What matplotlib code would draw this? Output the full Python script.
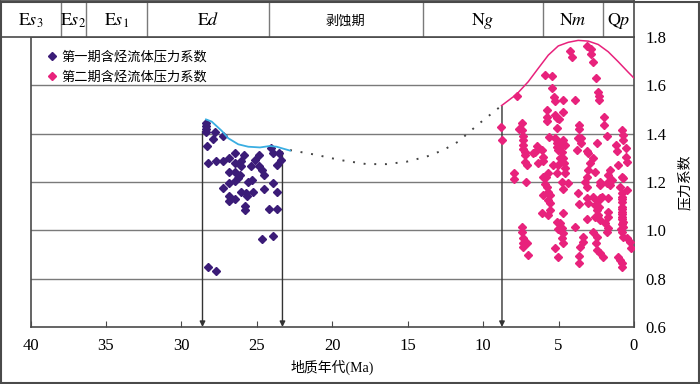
import numpy as np
import matplotlib
matplotlib.use("Agg")
import matplotlib.pyplot as plt
from matplotlib.patches import Rectangle

plt.rcParams['font.family'] = ['Liberation Serif', 'Noto Sans CJK SC']
plt.rcParams['mathtext.fontset'] = 'stix'

# ---- data (Ma, pressure coefficient) ----
stage1_age = [28.37, 28.37, 28.37, 28.37, 27.77, 27.93, 27.27, 28.33, 28.26, 27.73,
              27.27, 26.82, 26.45, 25.83, 26.05, 26.45, 26.05, 24.84, 25.12, 25.39,
              24.86, 24.68, 24.51, 24.06, 23.91, 23.53, 23.40, 23.69, 26.82, 26.45,
              26.12, 26.23, 26.45, 26.82, 27.27, 25.61, 25.30, 23.91, 24.51, 23.69,
              26.05, 25.72, 25.68, 25.23, 26.82, 26.82, 26.45, 25.79, 25.79, 24.20,
              23.69, 24.68, 23.91, 28.26, 27.73]
stage1_p = [1.445, 1.432, 1.418, 1.407, 1.408, 1.377, 1.392, 1.350, 1.277, 1.288,
            1.288, 1.301, 1.319, 1.312, 1.288, 1.277, 1.266, 1.312, 1.291, 1.266,
            1.266, 1.250, 1.229, 1.339, 1.319, 1.319, 1.291, 1.270, 1.240, 1.243,
            1.229, 1.215, 1.205, 1.194, 1.174, 1.201, 1.208, 1.197, 1.170, 1.160,
            1.160, 1.153, 1.142, 1.160, 1.142, 1.123, 1.128, 1.101, 1.084, 1.088,
            1.088, 0.964, 0.978, 0.850, 0.833]

stage2_age = [4.25, 4.14, 3.14, 2.88, 2.88, 2.75, 5.91, 5.46, 2.53, 5.46,
              7.74, 2.37, 2.30, 2.30, 5.29, 5.24, 4.73, 3.92, 5.75, 5.75,
              5.75, 5.24, 5.13, 4.96, 4.69, 1.97, 1.97, 8.82, 8.73, 7.45,
              7.61, 7.45, 7.39, 7.39, 7.34, 7.39, 7.23, 7.23, 7.23, 7.12,
              5.13, 3.63, 3.63, 3.70, 3.48, 3.54, 3.81, 5.62, 5.24, 5.13,
              4.96, 5.02, 4.73, 4.58, 4.80, 4.91, 5.02, 6.46, 6.57, 6.68,
              6.13, 6.02, 6.02, 6.35, 2.48, 3.14, 3.03, 2.70, 2.92, 3.03,
              3.14, 3.25, 3.14, 1.77, 0.82, 0.71, 0.76, 1.16, 1.11, 0.54,
              0.54, 0.49, 1.05, 4.69, 4.65, 4.58, 4.58, 4.80, 4.73, 4.36,
              5.35, 5.13, 5.68, 5.84, 6.02, 5.91, 5.79, 5.68, 5.57, 5.68,
              5.57, 6.06, 6.13, 5.68, 5.57, 7.96, 7.96, 7.16, 2.59, 2.26,
              2.26, 1.60, 1.71, 1.82, 1.49, 1.60, 0.82, 0.71, 0.93, 0.82,
              0.82, 0.82, 0.82, 0.82, 0.82, 0.71, 0.76, 0.82, 0.71, 0.49,
              3.70, 3.63, 3.14, 3.03, 2.70, 2.26, 2.15, 1.71, 2.59, 2.48,
              2.37, 2.26, 2.59, 1.71, 1.71, 1.93, 1.71, 1.82, 2.70, 3.14,
              4.69, 5.13, 4.91, 4.80, 4.73, 4.80, 4.73, 5.02, 5.24, 5.02,
              3.92, 7.45, 7.45, 7.39, 7.39, 7.34, 7.08, 7.05, 3.36, 3.41,
              3.59, 3.63, 3.63, 2.48, 2.53, 2.48, 2.26, 2.08, 0.49, 0.27,
              0.23, 1.05, 0.93, 0.82, 0.82, 0.82, 0.82, 0.82, 0.82, 5.10,
              5.00, 4.90, 2.40, 2.35, 0.85, 0.80]
stage2_p = [1.743, 1.716, 1.763, 1.749, 1.730, 1.698, 1.643, 1.639, 1.629, 1.587,
            1.557, 1.574, 1.556, 1.539, 1.553, 1.535, 1.539, 1.539, 1.498, 1.467,
            1.454, 1.477, 1.463, 1.459, 1.491, 1.470, 1.436, 1.429, 1.374, 1.445,
            1.418, 1.415, 1.390, 1.374, 1.353, 1.335, 1.325, 1.312, 1.284, 1.270,
            1.425, 1.436, 1.418, 1.381, 1.381, 1.360, 1.332, 1.387, 1.381, 1.360,
            1.346, 1.332, 1.374, 1.353, 1.325, 1.298, 1.270, 1.349, 1.325, 1.319,
            1.332, 1.305, 1.288, 1.277, 1.360, 1.330, 1.319, 1.298, 1.277, 1.250,
            1.222, 1.201, 1.181, 1.390, 1.415, 1.394, 1.374, 1.353, 1.330, 1.339,
            1.305, 1.284, 1.270, 1.298, 1.277, 1.257, 1.236, 1.201, 1.170, 1.194,
            1.270, 1.236, 1.236, 1.222, 1.222, 1.192, 1.181, 1.160, 1.146, 1.125,
            1.112, 1.146, 1.070, 1.063, 1.084, 1.236, 1.211, 1.201, 1.243, 1.201,
            1.187, 1.250, 1.229, 1.194, 1.208, 1.187, 1.222, 1.215, 1.181, 1.153,
            1.139, 1.119, 1.098, 1.077, 1.056, 1.036, 1.015, 0.994, 0.974, 1.167,
            1.153, 1.109, 1.132, 1.114, 1.139, 1.132, 1.139, 1.132, 1.105, 1.084,
            1.063, 1.043, 1.056, 1.077, 1.056, 1.029, 1.008, 0.994, 0.994, 1.045,
            1.070, 1.036, 1.029, 1.008, 0.988, 0.967, 0.946, 1.004, 0.926, 0.891,
            1.015, 1.015, 0.994, 0.967, 0.946, 0.932, 0.946, 0.898, 0.974, 0.953,
            0.932, 0.894, 0.863, 0.974, 0.946, 0.919, 0.905, 0.891, 0.967, 0.953,
            0.926, 0.891, 0.877, 0.863, 0.850, 1.129, 1.088, 1.067, 1.046, 1.345,
            1.365, 1.340, 1.120, 1.095, 1.005, 1.025]

curve1_age = [28.37, 27.99, 27.33, 26.89, 26.23, 25.57, 24.79, 24.13, 23.69, 23.25, 22.80]
curve1_p = [1.459, 1.450, 1.412, 1.381, 1.356, 1.346, 1.343, 1.349, 1.346, 1.338, 1.330]

gap_age = [22.80, 21.04, 19.49, 17.72, 16.40, 15.07, 13.75, 12.64, 11.65, 10.30, 9.50, 8.78]
gap_p = [1.332, 1.312, 1.291, 1.274, 1.274, 1.284, 1.305, 1.332, 1.367, 1.440, 1.480, 1.516]

curve2_age = [8.78, 7.78, 7.01, 6.35, 5.68, 5.02, 4.36, 3.70, 3.03, 2.37, 1.71, 1.05, 0.38, 0.0]
curve2_p = [1.516, 1.563, 1.615, 1.670, 1.725, 1.763, 1.778, 1.786, 1.783, 1.769, 1.739, 1.698, 1.654, 1.630]

arrow_age = [28.6, 23.3, 8.75]
arrow_top = [1.41, 1.325, 1.514]

# stratigraphic header
unit_edges = [42.02, 37.98, 36.32, 32.28, 24.19, 13.99, 6.04, 2.06, 0.0]
unit_names = [r'$\mathrm{E}\mathit{s}_{3}$', r'$\mathrm{E}\mathit{s}_{2}$', r'$\mathrm{E}\mathit{s}_{1}$',
              r'$\mathrm{E}\mathit{d}$', '剥蚀期', r'$\mathrm{N}\mathit{g}$',
              r'$\mathrm{N}\mathit{m}$', r'$\mathrm{Q}\mathit{p}$']

purple = '#3b1c78'
pink = '#e8227c'
cyan = '#3aaee2'
edge = '#4a4a4a'

fig = plt.figure(figsize=(7, 3.84), dpi=100)
ax = fig.add_axes([30.5 / 700, 1 - 327 / 384, 603.5 / 700, 290 / 384])
hx = fig.add_axes([0.0, 1 - 37 / 384, 634 / 700, 36 / 384])

ax.set_xlim(40, 0)
ax.set_ylim(0.6, 1.8)
for y in [0.8, 1.0, 1.2, 1.4, 1.6]:
    ax.axhline(y, color='#7a7a7a', lw=1.0, zorder=1)

ax.plot(stage1_age, stage1_p, 'D', color=purple, ms=4.4, mec=purple, zorder=3,
        label='第一期含烃流体压力系数')
ax.plot(stage2_age, stage2_p, 'D', color=pink, ms=4.4, mec=pink, zorder=3,
        label='第二期含烃流体压力系数')
ax.plot(curve1_age, curve1_p, color=cyan, lw=1.3, zorder=4)
ax.plot(curve2_age, curve2_p, color=pink, lw=1.1, zorder=4)
ax.plot(gap_age, gap_p, color='#444444', lw=1.4, ls=(0, (1, 4.5)), zorder=2)

for a, top in zip(arrow_age, arrow_top):
    ax.annotate('', xy=(a, 0.6), xytext=(a, top),
                arrowprops=dict(arrowstyle='-|>', color='#333333', lw=1.0,
                                mutation_scale=8, shrinkA=0, shrinkB=0), zorder=2)

ax.set_xticks([40, 35, 30, 25, 20, 15, 10, 5, 0])
ax.tick_params(axis='x', direction='in', length=4, color=edge, labelsize=12, pad=8)
ax.yaxis.tick_right()
ax.set_yticks([0.6, 0.8, 1.0, 1.2, 1.4, 1.6, 1.8])
ax.set_yticklabels(['0.6', '0.8', '1.0', '1.2', '1.4', '1.6', '1.8'])
ax.tick_params(axis='y', length=0, labelsize=12, pad=8)
ax.yaxis.set_label_position('right')
ax.set_ylabel('压力系数', fontsize=10, labelpad=9)
ax.set_xlabel('地质年代(Ma)', fontsize=10, labelpad=4)
for s in ax.spines.values():
    s.set_color(edge)
    s.set_linewidth(1.2)

leg = ax.legend(loc='upper left', bbox_to_anchor=(0.008, 0.995), frameon=False,
                handlelength=0.8, handletextpad=0.3, labelspacing=0.55,
                prop={'family': ['Noto Sans CJK SC'], 'size': 9.5})

hx.set_xlim(42.02, 0)
hx.set_ylim(0, 1)
hx.set_xticks([])
hx.set_yticks([])
for s in hx.spines.values():
    s.set_color(edge)
    s.set_linewidth(1.2)
for e in unit_edges[1:-1]:
    hx.axvline(e, color='#7a7a7a', lw=1.0)
for i, name in enumerate(unit_names):
    xc = (unit_edges[i] + unit_edges[i + 1]) / 2
    fs = 9.5 if name == '剥蚀期' else 13
    hx.text(xc, 0.45, name, ha='center', va='center', fontsize=fs,
            family=['Noto Sans CJK SC'] if name == '剥蚀期' else None)

fig.add_artist(Rectangle((0.5 / 700, 1.5 / 384), 698 / 700, 381 / 384, transform=fig.transFigure,
                         fill=False, ec=edge, lw=1.5))

fig.savefig('out.png', dpi=100)
